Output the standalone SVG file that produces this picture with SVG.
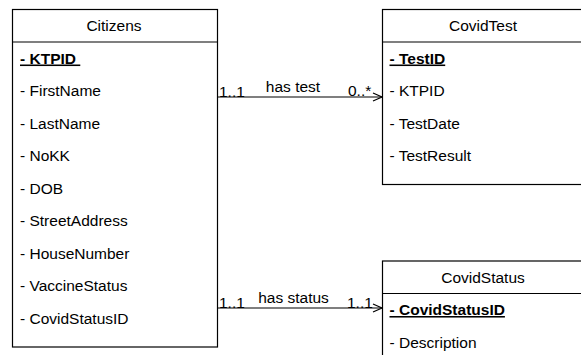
<svg xmlns="http://www.w3.org/2000/svg" width="581" height="355" viewBox="0 0 581 355">
<style>
text{font-family:"Liberation Sans",Arial,Helvetica,sans-serif;font-size:15.5px;fill:#000}
.box{fill:#fff;stroke:#000;stroke-width:1.2}
.hl{stroke:#000;stroke-width:1.2}
.h{text-anchor:middle}
.k{font-weight:bold;text-decoration:underline}
.c{fill:none;stroke:#000;stroke-width:1.2}
</style>
<defs>
<marker id="open" markerWidth="12" markerHeight="12" refX="10" refY="5" orient="auto" markerUnits="userSpaceOnUse">
<path d="M1,1 L10,5 L1,9" fill="none" stroke="#000" stroke-width="1.2"/>
</marker>
</defs>
<rect width="581" height="355" fill="#fff"/>
<g id="connectors">
<line class="c" x1="217.5" y1="97" x2="382" y2="97" marker-end="url(#open)"/>
<text x="219" y="97">1..1</text>
<text x="293" y="92" class="h">has test</text>
<text x="348" y="96">0..*</text>
<line class="c" x1="217.5" y1="308" x2="382" y2="308" marker-end="url(#open)"/>
<text x="219" y="308">1..1</text>
<text x="293.5" y="303" class="h">has status</text>
<text x="347" y="308">1..1</text>
</g>
<g id="citizens">
<rect class="box" x="12.5" y="9.5" width="205" height="337.5"/>
<line class="hl" x1="12.5" y1="42" x2="217.5" y2="42"/>
<text x="114" y="31" class="h">Citizens</text>
<text x="20" y="63.5" class="k" xml:space="preserve">- KTPID </text>
<text x="20" y="96">- FirstName</text>
<text x="20" y="128.5">- LastName</text>
<text x="20" y="161">- NoKK</text>
<text x="20" y="193.5">- DOB</text>
<text x="20" y="226">- StreetAddress</text>
<text x="20" y="258.5">- HouseNumber</text>
<text x="20" y="291">- VaccineStatus</text>
<text x="20" y="323.5">- CovidStatusID</text>
</g>
<g id="covidtest">
<rect class="box" x="382.5" y="9.5" width="205" height="175"/>
<line class="hl" x1="382.5" y1="42" x2="587.5" y2="42"/>
<text x="483" y="31" class="h">CovidTest</text>
<text x="389.5" y="63.5" class="k">- TestID</text>
<text x="389.5" y="96">- KTPID</text>
<text x="389.5" y="128.5">- TestDate</text>
<text x="389.5" y="161">- TestResult</text>
</g>
<g id="covidstatus">
<rect class="box" x="382.5" y="261" width="205" height="120"/>
<line class="hl" x1="382.5" y1="293.5" x2="587.5" y2="293.5"/>
<text x="483" y="282.5" class="h">CovidStatus</text>
<text x="389.5" y="315" class="k">- CovidStatusID</text>
<text x="389.5" y="347.5">- Description</text>
</g>
</svg>
